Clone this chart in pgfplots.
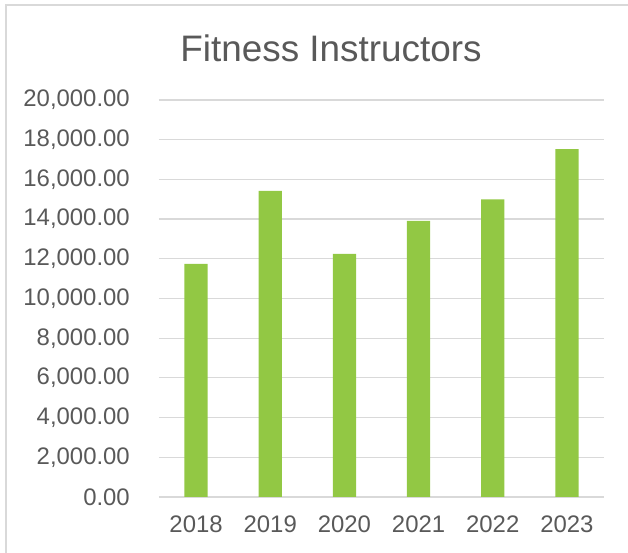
\documentclass[border=0pt]{standalone}
\usepackage{fontspec}
\setmainfont{Liberation Sans}
\usepackage{pgfplots}
\pgfplotsset{compat=1.18}
\definecolor{barg}{RGB}{146,200,68}
\definecolor{txtg}{RGB}{89,89,89}
\definecolor{gridg}{RGB}{217,217,217}
\begin{document}
\begin{tikzpicture}[x=1bp,y=1bp]
\useasboundingbox (-159,-56) rectangle (469,497);
\draw[gridg,line width=1.2bp] (-153,-56) -- (-153,492) -- (469,492);
\node[text=txtg,font=\fontsize{37}{42}\selectfont] at (172,449) {Fitness Instructors};
\begin{axis}[
  at={(0,0)}, anchor=south west,
  scale only axis,
  width=445bp, height=397bp,
  xmin=-0.5, xmax=5.5,
  ymin=0, ymax=20000,
  axis x line*=bottom,
  axis y line*=left,
  x axis line style={gridg,line width=1.5bp,-},
  y axis line style={draw=none},
  ymajorgrids,
  grid style={gridg,line width=1.2bp},
  major tick length=0pt,
  xtick={0,1,2,3,4,5},
  xticklabels={2018,2019,2020,2021,2022,2023},
  ytick={0,2000,4000,6000,8000,10000,12000,14000,16000,18000,20000},
  scaled y ticks=false,
  /pgf/number format/fixed,
  /pgf/number format/fixed zerofill,
  /pgf/number format/precision=2,
  /pgf/number format/1000 sep={,},
  /pgf/number format/assume math mode=true,
  yticklabel style={anchor=east,inner sep=0pt,xshift=-29bp,text=txtg,font=\fontsize{24}{28}\selectfont},
  xticklabel style={anchor=north,inner sep=0pt,yshift=-19bp,text=txtg,font=\fontsize{24}{28}\selectfont},
  ybar, bar width=23.3bp,
  clip=false,
]
\addplot[fill=barg,draw=none] coordinates {(0,11750) (1,15420) (2,12250) (3,13910) (4,14990) (5,17530)};
\end{axis}
\end{tikzpicture}
\end{document}
